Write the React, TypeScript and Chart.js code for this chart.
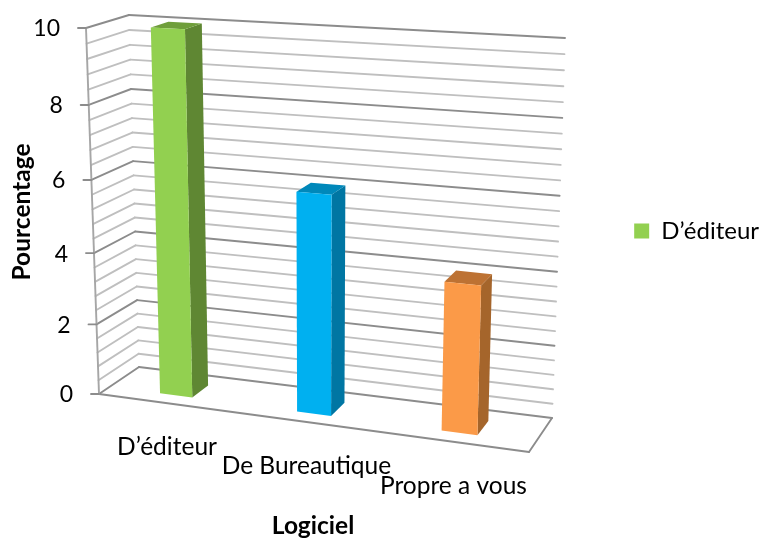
import React, { useEffect, useRef } from "react";
import { Chart, registerables } from "chart.js";

Chart.register(...registerables);

// Chart values
const categories = ["D’éditeur", "De Bureautique", "Propre a vous"];
const seriesName = "D’éditeur";
const percentages = [10, 6, 4];
const gridValues = [0, 0.4, 0.8, 1.2, 1.6, 2, 2.4, 2.8, 3.2, 3.6, 4, 4.4, 4.8, 5.2, 5.6, 6, 6.4, 6.8, 7.2, 7.6, 8, 8.4, 8.8, 9.2, 9.6, 10];
const tickValues = [0, 2, 4, 6, 8, 10];

// Face colours of each column: front, side, top
const frontColors = ["#92D050", "#00B0F0", "#FB9A48"];
const sideColors = ["#5F8733", "#0076A3", "#A5652B"];
const topColors = ["#6F9E3B", "#0088BA", "#BD7233"];

const FONT = "Lato, Carlito, sans-serif";
const MAJOR = "#8C8C8C";
const MINOR = "#BFBFBF";
const AXIS = "#A6A6A6";

// Screen corners of the 3D box (front/back, left/right, bottom/top)
const box = {
  fbl: [99, 394], fbr: [529, 452], ftl: [86, 28], ftr: [542, 54],
  bbl: [139, 367], bbr: [552, 418], btl: [129, 15], btr: [565, 38],
};
const persp = (t: number, k: number) => t / (t + k * (1 - t));
const mix = (a: number, b: number, t: number) => a + (b - a) * t;

// Maps normalised (across, up, depth) coordinates into the perspective box
function project(u: number, v: number, w: number): [number, number] {
  const U = persp(u, 1.083);
  const V = persp(v, 1.065);
  const axis = (i: number) => {
    const fb = mix(box.fbl[i], box.fbr[i], U);
    const ft = mix(box.ftl[i], box.ftr[i], U);
    const bb = mix(box.bbl[i], box.bbr[i], U);
    const bt = mix(box.btl[i], box.btr[i], U);
    return mix(mix(fb, ft, V), mix(bb, bt, V), w);
  };
  return [axis(0), axis(1)];
}

const BAR_FRONT = 0.27;
const BAR_BACK = 0.7;
const LEGEND_SHIFT = 8;

function line(ctx: CanvasRenderingContext2D, a: number[], b: number[], color: string) {
  ctx.strokeStyle = color;
  ctx.lineWidth = 1.9;
  ctx.beginPath();
  ctx.moveTo(a[0], a[1]);
  ctx.lineTo(b[0], b[1]);
  ctx.stroke();
}

function poly(ctx: CanvasRenderingContext2D, pts: number[][], color: string) {
  ctx.fillStyle = color;
  ctx.beginPath();
  pts.forEach((p, i) => (i ? ctx.lineTo(p[0], p[1]) : ctx.moveTo(p[0], p[1])));
  ctx.closePath();
  ctx.fill();
}

const box3d = {
  id: "box3d",
  afterLayout(chart: any) {
    // Legend hugs the right edge of the canvas
    chart.legend.left += LEGEND_SHIFT;
    chart.legend.right += LEGEND_SHIFT;
  },
  beforeDatasetsDraw(chart: any) {
    const { ctx, chartArea: area, scales } = chart;
    const yScale = scales.y;
    const xScale = scales.x;
    const toU = (px: number) => (px - area.left) / (area.right - area.left);
    const toV = (px: number) => (area.bottom - px) / (area.bottom - area.top);

    ctx.save();
    ctx.lineCap = "round";

    // Walls: each gridline runs along the side wall, then the back wall
    gridValues.forEach((value) => {
      const v = toV(yScale.getPixelForValue(value));
      const isMajor = tickValues.includes(value);
      const color = isMajor ? MAJOR : MINOR;
      line(ctx, project(0, v, 0), project(0, v, 1), color);
      line(ctx, project(0, v, 1), project(1, v, 1), color);
    });

    // Floor edges and value axis
    line(ctx, project(0, 0, 0), project(1, 0, 0), MAJOR);
    line(ctx, project(1, 0, 0), project(1, 0, 1), MAJOR);
    line(ctx, project(0, 0, 0), project(0, 1, 0), AXIS);

    // Value ticks and their labels
    ctx.fillStyle = "#000";
    ctx.font = `23px ${FONT}`;
    ctx.textAlign = "right";
    ctx.textBaseline = "middle";
    tickValues.forEach((value) => {
      const p = project(0, toV(yScale.getPixelForValue(value)), 0);
      line(ctx, [p[0] - 8, p[1]], p, MAJOR);
      ctx.fillStyle = "#000";
      ctx.fillText(String(value), p[0] - 26, p[1] + 1);
    });

    // Category labels sit below the front floor edge
    ctx.font = `24.5px ${FONT}`;
    ctx.textAlign = "center";
    categories.forEach((label, i) => {
      const p = project(toU(xScale.getPixelForValue(i)), 0, 0);
      ctx.fillText(label, p[0] + 1, p[1] + 44);
    });

    // Axis titles
    ctx.font = `bold 24.5px ${FONT}`;
    ctx.fillText(xScale.options.title.text, 313, 526);
    ctx.save();
    ctx.translate(22, 212);
    ctx.rotate(-Math.PI / 2);
    ctx.fillText(yScale.options.title.text, 0, 0);
    ctx.restore();

    // Columns: the library's bar elements give position, width and height
    chart.getDatasetMeta(0).data.forEach((bar: any, i: number) => {
      const u0 = toU(bar.x - bar.width / 2);
      const u1 = toU(bar.x + bar.width / 2);
      const v = toV(bar.y);
      const fl0 = project(u0, 0, BAR_FRONT);
      const fr0 = project(u1, 0, BAR_FRONT);
      const br0 = project(u1, 0, BAR_BACK);
      const fl1 = project(u0, v, BAR_FRONT);
      const fr1 = project(u1, v, BAR_FRONT);
      const br1 = project(u1, v, BAR_BACK);
      const bl1 = project(u0, v, BAR_BACK);
      poly(ctx, [fr0, br0, br1, fr1], sideColors[i]);
      poly(ctx, [fl1, fr1, br1, bl1], topColors[i]);
      poly(ctx, [fl0, fr0, fr1, fl1], frontColors[i]);
    });

    ctx.restore();
    return false;
  },
};

export default function App() {
  const canvasRef = useRef<HTMLCanvasElement>(null);

  useEffect(() => {
    const chart = new Chart(canvasRef.current!, {
      type: "bar",
      data: {
        labels: categories,
        datasets: [
          { label: seriesName, data: percentages, backgroundColor: frontColors, barPercentage: 0.24, categoryPercentage: 1 },
        ],
      },
      options: {
        responsive: false,
        animation: false,
        layout: { padding: { bottom: 76, right: 0 } },
        scales: {
          x: { display: false, title: { text: "Logiciel" } },
          y: { display: false, min: 0, max: 10, title: { text: "Pourcentage" } },
        },
        plugins: {
          tooltip: { enabled: false },
          legend: {
            position: "right",
            labels: {
              boxWidth: 15,
              boxHeight: 15,
              padding: 1,
              color: "#000",
              font: { family: FONT, size: 24 },
              generateLabels: () => [
                { text: seriesName, fillStyle: frontColors[0], strokeStyle: frontColors[0], lineWidth: 0, datasetIndex: 0 },
              ],
            },
          },
        },
      },
      plugins: [box3d],
    } as any);
    return () => chart.destroy();
  }, []);

  return (
    <canvas
      ref={canvasRef}
      width={761}
      height={538}
      style={{ position: "absolute", left: 0, top: 0, display: "block" }}
    />
  );
}
